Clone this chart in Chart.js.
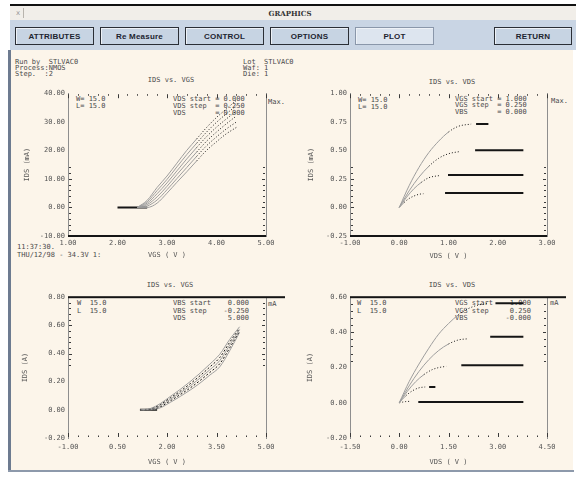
<!DOCTYPE html>
<html>
<head>
<meta charset="utf-8">
<script src="https://cdn.jsdelivr.net/npm/chart.js@4.4.0/dist/chart.umd.min.js"></script>
<style>
body{margin:0;width:576px;height:481px;background:#fff;position:relative;overflow:hidden}
.a{position:absolute}
.t{position:absolute;font:7px "DejaVu Sans Mono",monospace;color:#4a4a4a;white-space:pre;line-height:7px}
.btn{position:absolute;top:27px;height:16px;background:#c7d4e3;border:1px solid #2b2f36;box-shadow:inset 1px 1px 0 #eef2f7;font:bold 8px "Liberation Sans",Arial,sans-serif;color:#1d2430;display:flex;align-items:center;justify-content:center;letter-spacing:.2px}
canvas{position:absolute}
</style>
</head>
<body>
<!-- marco de la ventana -->
<div class="a" style="left:10px;top:4px;width:566px;height:2px;background:#111"></div>
<div class="a" style="left:10px;top:6px;width:566px;height:14px;background:#f1eee9"></div>
<div class="a" style="left:13px;top:8px;width:10px;height:10px;border-right:1px solid #b8b4ad;font:7px 'DejaVu Sans';color:#999;text-align:center;line-height:10px">x</div>
<div class="a" style="left:250px;top:9px;width:80px;text-align:center;font:bold 7px 'DejaVu Serif',serif;color:#333">GRAPHICS</div>
<div class="a" style="left:10px;top:20px;width:566px;height:30px;background:#c9d5e4"></div>
<div class="btn" style="left:15px;width:77px">ATTRIBUTES</div>
<div class="btn" style="left:100px;width:77px">Re Measure</div>
<div class="btn" style="left:185px;width:77px">CONTROL</div>
<div class="btn" style="left:270px;width:77px">OPTIONS</div>
<div class="btn" style="left:355px;width:77px;background:#dde5ef;border-color:#8a97aa">PLOT</div>
<div class="btn" style="left:494px;width:76px">RETURN</div>
<div class="a" style="left:8px;top:50px;width:3px;height:422px;background:#6d7b90"></div>
<div class="a" style="left:11px;top:50px;width:562px;height:420px;background:#fcf5ea"></div>
<div class="a" style="left:8px;top:470px;width:566px;height:2px;background:#8d99ab"></div>

<!-- textos de cabecera -->
<div class="t" style="left:15px;top:59px">Run by  STLVAC0</div>
<div class="t" style="left:15px;top:65px">Process:NMOS</div>
<div class="t" style="left:15px;top:71px">Step.  :2</div>
<div class="t" style="left:243px;top:59px">Lot  STLVAC0</div>
<div class="t" style="left:243px;top:65px">Waf: 1</div>
<div class="t" style="left:243px;top:71px">Die: 1</div>
<div class="t" style="left:17px;top:244px">11:37:30.</div>
<div class="t" style="left:17px;top:252px">THU/12/98 - 34.3V 1:</div>

<!-- titulos y leyendas -->
<div class="t" style="left:121px;top:77px;width:100px;text-align:center">IDS vs. VGS</div>
<div class="t" style="left:76px;top:96px">W= 15.0</div>
<div class="t" style="left:76px;top:103px">L= 15.0</div>
<div class="t" style="left:173px;top:96px">VDS start = 0.000</div>
<div class="t" style="left:173px;top:103px">VDS step  = 0.250</div>
<div class="t" style="left:173px;top:110px">VDS       = 0.000</div>
<div class="t" style="left:268px;top:99px">Max.</div>

<div class="t" style="left:402px;top:79px;width:100px;text-align:center">IDS vs. VDS</div>
<div class="t" style="left:358px;top:97px">W= 15.0</div>
<div class="t" style="left:358px;top:104px">L= 15.0</div>
<div class="t" style="left:455px;top:96px">VGS start = 1.000</div>
<div class="t" style="left:455px;top:102px">VGS step  = 0.250</div>
<div class="t" style="left:455px;top:109px">VBS       = 0.000</div>
<div class="t" style="left:551px;top:98px">Max.</div>

<div class="t" style="left:120px;top:282px;width:100px;text-align:center">IDS vs. VGS</div>
<div class="t" style="left:77px;top:300px">W  15.0</div>
<div class="t" style="left:77px;top:308px">L  15.0</div>
<div class="t" style="left:173px;top:300px">VBS start    0.000</div>
<div class="t" style="left:173px;top:308px">VBS step    -0.250</div>
<div class="t" style="left:173px;top:315px">VDS          5.000</div>
<div class="t" style="left:268px;top:301px">mA</div>

<div class="t" style="left:402px;top:282px;width:100px;text-align:center">IDS vs. VDS</div>
<div class="t" style="left:357px;top:300px">W  15.0</div>
<div class="t" style="left:357px;top:308px">L  15.0</div>
<div class="t" style="left:455px;top:300px">VGS start    1.000</div>
<div class="t" style="left:455px;top:308px">VGS step     0.250</div>
<div class="t" style="left:455px;top:315px">VBS         -0.000</div>
<div class="t" style="left:550px;top:300px">mA</div>

<canvas id="cTL" width="280" height="174" style="left:10px;top:86px"></canvas>
<canvas id="cTR" width="280" height="174" style="left:292px;top:86px"></canvas>
<canvas id="cBL" width="280" height="180" style="left:10px;top:290px"></canvas>
<canvas id="cBR" width="280" height="180" style="left:292px;top:290px"></canvas>

<script>
// --- IDS vs VGS (arriba izquierda) ---
const tlXTicks = [1, 2, 3, 4, 5];
const tlYTicks = [-10, 0, 10, 20, 30, 40];
const tlVgs = [2.4, 2.6, 2.8, 3.0, 3.2, 3.4, 3.6, 3.8, 4.0, 4.2, 4.4];
const tlIds = [
  [0, 2.5, 7.0, 11.0, 15.5, 20.0, 24.0, 28.0, 31.5, 34.5, 37.5],
  [0, 2.0, 5.9, 9.8, 14.2, 18.5, 22.5, 26.4, 29.8, 32.8, 35.6],
  [0, 1.5, 4.8, 8.6, 12.8, 17.0, 21.0, 24.8, 28.1, 31.0, 33.7],
  [0, 1.0, 3.7, 7.4, 11.5, 15.5, 19.4, 23.2, 26.4, 29.3, 32.0],
  [0, 0.5, 2.6, 6.2, 10.1, 14.0, 17.9, 21.6, 24.7, 27.5, 29.9],
  [0, 0.0, 1.5, 5.0, 8.8, 12.5, 16.3, 20.0, 23.0, 25.8, 28.0]
];
const tlFlatX = [2.0, 2.6];
const tlFlatY = 0;

// --- IDS vs VDS (arriba derecha) ---
const trXTicks = [-1, 0, 1, 2, 3];
const trYTicks = [-0.25, 0, 0.25, 0.5, 0.75, 1.0];
const trVds = [
  [0, 0.2, 0.4, 0.6, 0.8, 1.0, 1.2, 1.46],
  [0, 0.2, 0.4, 0.6, 0.8, 1.0, 1.24],
  [0, 0.15, 0.3, 0.45, 0.6, 0.83],
  [0, 0.1, 0.2, 0.3, 0.4, 0.49]
];
const trIds = [
  [0, 0.19, 0.35, 0.48, 0.58, 0.66, 0.71, 0.73],
  [0, 0.145, 0.265, 0.36, 0.43, 0.47, 0.49],
  [0, 0.09, 0.165, 0.22, 0.26, 0.28],
  [0, 0.044, 0.078, 0.10, 0.115, 0.12]
];
const trSatX = [[1.56, 1.81], [1.54, 2.52], [0.99, 2.52], [0.93, 2.52]];
const trSatY = [0.73, 0.50, 0.283, 0.126];

// --- IDS vs VGS con VBS (abajo izquierda) ---
const blXTicks = [-1, 0.5, 2, 3.5, 5];
const blYTicks = [-0.2, 0, 0.2, 0.4, 0.6, 0.8];
const blVgs = [1.2, 1.5, 1.8, 2.1, 2.4, 2.7, 3.0, 3.3, 3.6, 3.9, 4.2];
const blIds = [
  [0, 0.010, 0.045, 0.095, 0.145, 0.200, 0.260, 0.325, 0.395, 0.500, 0.590],
  [0, 0.008, 0.038, 0.085, 0.132, 0.185, 0.242, 0.305, 0.372, 0.480, 0.580],
  [0, 0.005, 0.030, 0.075, 0.120, 0.170, 0.225, 0.285, 0.350, 0.460, 0.570],
  [0, 0.003, 0.022, 0.064, 0.108, 0.155, 0.208, 0.266, 0.328, 0.440, 0.560],
  [0, 0.001, 0.015, 0.053, 0.095, 0.140, 0.190, 0.247, 0.306, 0.420, 0.550]
];
const blFlatX = [1.18, 1.7];
const blFlatY = 0;

// --- IDS vs VDS con VBS (abajo derecha) ---
const brXTicks = [-1.5, 0, 1.5, 3, 4.5];
const brYTicks = [-0.2, 0, 0.2, 0.4, 0.6];
const brVds = [
  [0, 0.3, 0.6, 0.9, 1.2, 1.5, 1.8, 2.1, 2.4, 2.71],
  [0, 0.3, 0.6, 0.9, 1.2, 1.5, 1.8, 2.1],
  [0, 0.25, 0.5, 0.75, 1.0, 1.2, 1.43],
  [0, 0.2, 0.4, 0.6, 0.79],
  [0, 0.1, 0.2, 0.3]
];
const brIds = [
  [0, 0.12, 0.22, 0.31, 0.39, 0.45, 0.50, 0.535, 0.555, 0.565],
  [0, 0.096, 0.178, 0.245, 0.297, 0.334, 0.357, 0.364],
  [0, 0.066, 0.12, 0.16, 0.188, 0.20, 0.207],
  [0, 0.04, 0.068, 0.085, 0.09],
  [0, 0.004, 0.007, 0.008]
];
const brSatX = [[2.93, 3.78], [2.77, 3.78], [1.89, 3.78], [0.91, 1.10], [0.58, 3.78]];
const brSatY = [0.565, 0.375, 0.213, 0.09, 0.005];

Chart.defaults.animation = false;
Chart.defaults.font.family = '"DejaVu Sans Mono", monospace';
Chart.defaults.font.size = 7;
Chart.defaults.color = '#555';

const GRIS = '#9d9d9d', NEGRO = '#151515';

function pts(xs, ys) { return xs.map((x, i) => ({ x, y: ys[i] })); }

function curva(xs, ys, desde, punteada) {
  return {
    data: pts(xs, ys), showLine: true, pointRadius: 0, cubicInterpolationMode: 'monotone',
    borderColor: punteada ? NEGRO : GRIS, borderWidth: 1, borderDash: punteada ? [2, 2] : [],
    segment: {
      borderColor: c => c.p0.parsed.x >= desde ? NEGRO : undefined,
      borderDash: c => c.p0.parsed.x >= desde ? [1, 2] : undefined
    }
  };
}
function recta(xs, y) {
  return { data: xs.map(x => ({ x, y })), showLine: true, pointRadius: 0, borderColor: NEGRO, borderWidth: 2 };
}

// marcas de escala hacia dentro del area + borde negro grueso
const marcasIn = {
  id: 'marcasIn',
  afterDatasetsDraw(chart, args, o) {
    const { ctx, chartArea: a, scales: { x, y } } = chart;
    ctx.save();
    ctx.fillStyle = '#3a3a3a';
    const nx = Math.round((x.max - x.min) / o.xMinor);
    for (let i = 0; i <= nx; i++) {
      const v = x.min + i * o.xMinor;
      const r = (v - x.min) / o.xMajor;
      const mayor = Math.abs(r - Math.round(r)) < 1e-6;
      const len = mayor ? 4 : 1.5;
      const px = Math.round(x.getPixelForValue(v));
      if (o.edge === 'top') ctx.fillRect(px, a.top + 1, 1, len);
      else ctx.fillRect(px, a.bottom - 1 - len, 1, len);
    }
    const ny = Math.round((o.yTo - o.yFrom) / o.yMinor);
    for (let i = 0; i <= ny; i++) {
      const v = o.yFrom + i * o.yMinor;
      const r = (v - y.min) / o.yMajor;
      const mayor = Math.abs(r - Math.round(r)) < 1e-6;
      const len = mayor ? 3 : 2;
      const py = Math.round(y.getPixelForValue(v));
      ctx.fillRect(a.left + 1, py, len, 1);
      ctx.fillRect(a.right - 1 - len, py, len, 1);
    }
    // linea negra gruesa (abajo en los de arriba, arriba en los de abajo)
    ctx.fillStyle = NEGRO;
    if (o.edge === 'top') ctx.fillRect(a.left, a.bottom - 1, a.right - a.left, 2);
    else ctx.fillRect(a.left, a.top - 1, a.right - a.left + (o.ext || 0), 2);
    ctx.restore();
  }
};

function grafico(id, o, datasets) {
  const fmt = v => v.toFixed(2);
  const scales = {
    x: {
      type: 'linear', position: 'bottom', min: o.xt[0], max: o.xt[o.xt.length - 1],
      afterBuildTicks: s => { s.ticks = o.xt.map(v => ({ value: v })); },
      afterFit: s => { s.height = o.xh; },
      ticks: { callback: fmt, padding: o.xpad, maxRotation: 0, autoSkip: false },
      grid: { display: false, drawTicks: false },
      border: { display: false },
      title: { display: true, text: o.xTitle, padding: { top: 0, bottom: o.xtp } }
    },
    y: {
      type: 'linear', position: 'left', min: o.yt[0], max: o.yt[o.yt.length - 1],
      afterBuildTicks: s => { s.ticks = o.yt.map(v => ({ value: v })); },
      afterFit: s => { s.width = 58; },
      ticks: { callback: fmt, padding: 3, autoSkip: false },
      grid: { display: false, drawTicks: false },
      border: { color: '#8e8e8e', width: 1 },
      title: { display: true, text: o.yTitle, padding: { top: o.ytp, bottom: 0 } }
    },
    y2: {
      type: 'linear', position: 'right', min: o.yt[0], max: o.yt[o.yt.length - 1],
      afterFit: s => { s.width = o.rw; },
      ticks: { display: false }, grid: { display: false, drawTicks: false },
      border: { color: '#8e8e8e', width: 1 }
    }
  };
  return new Chart(document.getElementById(id), {
    type: 'scatter',
    data: { datasets },
    options: {
      responsive: false,
      layout: { padding: { top: o.pt, left: 0, right: 0, bottom: 0 } },
      plugins: { legend: { display: false }, tooltip: { enabled: false }, marcasIn: o.marcas },
      scales
    },
    plugins: [marcasIn]
  });
}

grafico('cTL', {
  xt: tlXTicks, yt: tlYTicks, xh: 24, xpad: 3, xtp: 1, ytp: 13, rw: 24, pt: 7,
  xTitle: 'VGS ( V )', yTitle: 'IDS (mA)',
  marcas: { edge: 'top', xMinor: 0.2, xMajor: 1, yFrom: -10, yTo: 14, yMinor: 2, yMajor: 10 }
}, [
  ...tlIds.map(ys => curva(tlVgs, ys, 3.6, false)),
  recta(tlFlatX, tlFlatY)
]);

grafico('cTR', {
  xt: trXTicks, yt: trYTicks, xh: 24, xpad: 3, xtp: 0, ytp: 15, rw: 25, pt: 7,
  xTitle: 'VDS ( V )', yTitle: 'IDS (mA)',
  marcas: { edge: 'top', xMinor: 0.2, xMajor: 1, yFrom: -0.25, yTo: 0.35, yMinor: 0.05, yMajor: 0.25 }
}, [
  ...trVds.map((xs, i) => curva(xs, trIds[i], [1.0, 0.6, 0.4, 0.1][i], false)),
  ...trSatX.map((xs, i) => recta(xs, trSatY[i]))
]);

grafico('cBL', {
  xt: blXTicks, yt: blYTicks, xh: 32, xpad: 5, xtp: 4, ytp: 11, rw: 24, pt: 6,
  xTitle: 'VGS ( V )', yTitle: 'IDS (A)',
  marcas: { edge: 'bottom', xMinor: 0.3, xMajor: 1.5, yFrom: 0.32, yTo: 0.8, yMinor: 0.04, yMajor: 0.2, ext: 19 }
}, [
  ...blIds.map((ys, i) => curva(blVgs, ys, 99, i % 2 === 1)),
  recta(blFlatX, blFlatY)
]);

grafico('cBR', {
  xt: brXTicks, yt: brYTicks, xh: 32, xpad: 5, xtp: 4, ytp: 14, rw: 25, pt: 7,
  xTitle: 'VDS ( V )', yTitle: 'IDS (A)',
  marcas: { edge: 'bottom', xMinor: 0.3, xMajor: 1.5, yFrom: 0.24, yTo: 0.6, yMinor: 0.04, yMajor: 0.2, ext: 19 }
}, [
  ...brVds.map((xs, i) => curva(xs, brIds[i], [1.8, 1.5, 0.64, 0.2, 0][i], false)),
  ...brSatX.map((xs, i) => recta(xs, brSatY[i]))
]);
</script>
</body>
</html>
